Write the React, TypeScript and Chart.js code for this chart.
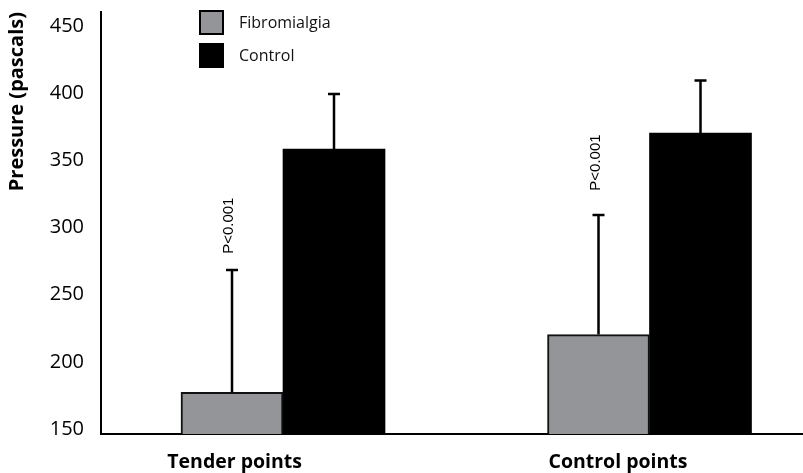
import React, { useEffect, useRef } from 'react';
import { Chart, registerables } from 'chart.js';

Chart.register(...registerables);

// ---- data ----
const categories = ['Tender points', 'Control points'];
const seriesNames = ['Fibromialgia', 'Control'];
const fibromialgiaMean = [181, 224];
const fibromialgiaUpper = [272, 313];
const controlMean = [362, 374];
const controlUpper = [403, 413];
const yTickValues = [150, 200, 250, 300, 350, 400, 450];
const pValueText = ['P<0.001', 'P<0.001'];
const pValueAnchor = [305, 352]; // y value at which the p-value label is centred
const yTitle = 'Pressure (pascals)';

// ---- style ----
const GRAY = '#939598';
const INK = '#000000';
const labelShift = [-0.132, -0.086];

const errorBarPlugin = {
  id: 'errorBars',
  afterDatasetsDraw(chart: any) {
    const { ctx } = chart;
    const yScale = chart.scales.y;
    ctx.save();
    ctx.strokeStyle = INK;
    ctx.lineWidth = 2.5;
    chart.data.datasets.forEach((ds: any, di: number) => {
      const meta = chart.getDatasetMeta(di);
      meta.data.forEach((el: any, i: number) => {
        const upper = ds.errorUpper[i];
        const x = el.x;
        const yTop = yScale.getPixelForValue(upper);
        ctx.beginPath();
        ctx.moveTo(x, el.y);
        ctx.lineTo(x, yTop);
        ctx.moveTo(x - 6, yTop);
        ctx.lineTo(x + 6, yTop);
        ctx.stroke();
      });
    });
    // p-value labels over the Fibromialgia bars
    const meta0 = chart.getDatasetMeta(0);
    ctx.fillStyle = INK;
    ctx.font = '15px "Liberation Sans", Arial, sans-serif';
    ctx.textAlign = 'center';
    ctx.textBaseline = 'middle';
    meta0.data.forEach((el: any, i: number) => {
      const y = yScale.getPixelForValue(pValueAnchor[i]);
      ctx.save();
      ctx.translate(el.x - 3, y);
      ctx.rotate(-Math.PI / 2);
      ctx.fillText(pValueText[i], 0, 0);
      ctx.restore();
    });
    ctx.restore();
  },
};

const legendPlugin = {
  id: 'boxLegend',
  afterDraw(chart: any) {
    const { ctx } = chart;
    ctx.save();
    const x0 = 199;
    const rows = [10, 43];
    chart.data.datasets.forEach((ds: any, i: number) => {
      const top = rows[i];
      ctx.fillStyle = ds.backgroundColor;
      ctx.fillRect(x0, top, 25, 25);
      if (ds.borderWidth) {
        ctx.strokeStyle = INK;
        ctx.lineWidth = 2;
        ctx.strokeRect(x0 + 1, top + 1, 23, 23);
      }
      ctx.fillStyle = '#111';
      ctx.font = '16px "Open Sans", sans-serif';
      ctx.textAlign = 'left';
      ctx.textBaseline = 'middle';
      ctx.fillText(ds.label, x0 + 40, top + 13);
    });
    ctx.restore();
  },
};

export default function App() {
  const ref = useRef<HTMLCanvasElement | null>(null);

  useEffect(() => {
    document.body.style.margin = '0';
    const canvas = ref.current;
    if (!canvas) return;
    const chart = new Chart(canvas, {
      type: 'bar',
      data: {
        datasets: [
          {
            label: seriesNames[0],
            data: categories.map((_, i) => ({ x: i, y: fibromialgiaMean[i] })),
            backgroundColor: GRAY,
            borderColor: '#111',
            borderWidth: 2,
            borderSkipped: false,
            barThickness: 102,
            errorUpper: fibromialgiaUpper,
          } as any,
          {
            label: seriesNames[1],
            data: categories.map((_, i) => ({ x: i, y: controlMean[i] })),
            backgroundColor: INK,
            borderWidth: 0,
            barThickness: 102,
            errorUpper: controlUpper,
          } as any,
        ],
      },
      options: {
        animation: false,
        responsive: false,
        layout: { padding: { top: 11, left: 0, right: 0, bottom: 0 } },
        plugins: {
          legend: { display: false },
          tooltip: { enabled: false },
        },
        scales: {
          x: {
            type: 'linear',
            offset: false,
            min: -0.4966,
            max: 1.4188,
            grid: { display: false, drawTicks: true, tickLength: 17 },
            border: { display: true, color: INK, width: 2 },
            afterBuildTicks: (s: any) => {
              s.ticks = categories.map((_, i) => ({ value: i + labelShift[i] }));
            },
            afterFit: (s: any) => {
              s.height = 39;
            },
            ticks: {
              autoSkip: false,
              maxRotation: 0,
              padding: 0,
              color: INK,
              font: { family: '"Open Sans", sans-serif', size: 19.5, weight: 'bold' },
              callback: (_v: any, idx: number) => categories[idx],
            },
          },
          y: {
            min: 150,
            max: 464,
            grid: { display: false, drawTicks: true, tickLength: 17 },
            border: { display: true, color: INK, width: 2 },
            afterBuildTicks: (s: any) => {
              s.ticks = yTickValues.map((v) => ({ value: v }));
            },
            afterFit: (s: any) => {
              s.width = 101;
            },
            ticks: {
              padding: 0,
              labelOffset: -5,
              color: INK,
              font: { family: '"Open Sans", sans-serif', size: 20 },
            },
            title: {
              display: true,
              text: yTitle,
              align: 'end',
              color: INK,
              font: { family: '"Open Sans", sans-serif', size: 20, weight: 'bold' },
              padding: { top: 5, bottom: 0 },
            },
          },
        },
      } as any,
      plugins: [errorBarPlugin, legendPlugin],
    });
    return () => chart.destroy();
  }, []);

  return (
    <div style={{ width: 803, height: 473, background: '#fff' }}>
      <canvas ref={ref} width={803} height={473} style={{ display: 'block', width: 803, height: 473 }} />
    </div>
  );
}
